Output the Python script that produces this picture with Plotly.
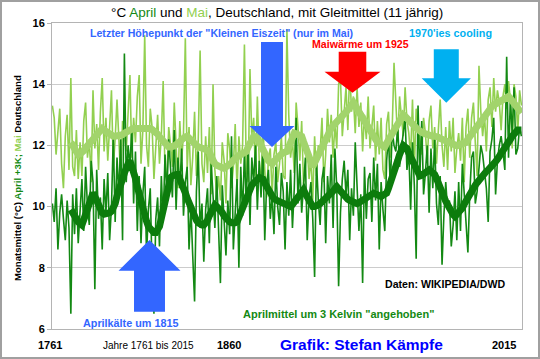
import plotly.graph_objects as go

# ---------------- data ----------------
years = list(range(1761, 2016))
ma_years = list(range(1771, 2016))

mai = [
    13.3, 12.9, 11.7, 12.6, 13.2, 11.4, 10.6, 12.3, 13.0, 11.2,
    14.2, 11.3, 11.0, 12.5, 10.9, 12.1, 11.0, 12.8, 13.4, 11.6,
    12.2, 10.8, 13.8, 11.9, 12.7, 11.2, 13.1, 14.2, 11.8, 12.9,
    11.5, 12.6, 13.8, 11.3, 12.2, 13.5, 11.9, 10.9, 12.8, 12.4,
    11.8, 13.2, 14.3, 11.6, 12.9, 12.1, 13.6, 14.3, 11.4, 12.5,
    15.6, 12.0, 11.3, 13.2, 12.6, 10.9, 12.2, 13.0, 11.4, 12.3,
    14.1, 11.1, 10.9, 12.6, 12.0, 11.3, 13.4, 11.7, 10.6, 12.8,
    11.5, 12.4, 15.5, 11.2, 12.6, 10.7, 11.6, 13.1, 11.0, 12.2,
    15.1, 11.4, 10.8, 12.3, 11.1, 12.6, 10.4, 14.0, 11.2, 10.3,
    11.0, 10.2, 12.1, 11.5, 10.1, 12.4, 11.9, 10.6, 11.3, 12.7,
    10.5, 12.3, 11.4, 12.0, 15.3, 11.2, 10.8, 14.5, 12.2, 12.9,
    11.0, 13.6, 11.5, 10.6, 12.8, 11.2, 10.3, 11.6, 11.9, 10.4,
    11.7, 12.1, 10.8, 11.4, 12.3, 11.0, 10.9, 15.8, 13.0, 11.6,
    12.2, 11.1, 13.4, 12.6, 11.5, 12.8, 10.7, 11.3, 12.0, 10.9,
    11.6, 10.2, 12.3, 11.0, 12.0, 11.8, 12.9, 10.8, 11.7, 13.2,
    12.1, 13.0, 11.6, 12.7, 11.9, 14.0, 14.2, 12.3, 13.1, 13.9,
    12.5, 14.5, 13.1, 13.6, 12.4, 13.9, 12.6, 13.4, 11.8, 13.0,
    12.2, 13.6, 11.9, 12.6, 13.3, 11.5, 12.8, 11.7, 12.9, 11.2,
    10.9, 12.7, 13.1, 11.6, 12.5, 14.7, 13.3, 12.1, 13.6, 12.8,
    12.3, 13.9, 12.8, 12.4, 11.6, 13.5, 11.2, 13.2, 12.7, 12.0,
    11.7, 12.9, 12.4, 11.5, 12.8, 13.3, 11.9, 12.6, 11.4, 12.5,
    13.5, 12.0, 11.3, 12.6, 11.2, 12.8, 11.8, 12.9, 11.1, 11.9,
    12.4, 11.5, 12.9, 10.8, 12.6, 13.2, 11.6, 12.9, 13.4, 12.1,
    11.0, 14.6, 13.1, 12.3, 13.0, 11.8, 13.5, 13.9, 12.6, 14.2,
    13.1, 13.8, 13.4, 12.5, 13.6, 14.0, 13.2, 14.1, 13.5, 11.9,
    14.0, 13.6, 12.4, 13.8, 13.3,
]

april3 = [
    10.1, 9.5, 10.6, 8.6, 9.8, 10.4, 9.6, 8.9, 10.2, 9.3,
    6.5, 10.4, 9.1, 10.6, 8.8, 9.7, 10.9, 9.2, 11.3, 10.0,
    9.4, 11.5, 10.8, 7.3, 11.2, 9.6, 10.3, 8.6, 10.9, 9.8,
    11.1, 8.9, 10.0, 12.3, 9.5, 11.6, 10.4, 12.2, 8.9, 15.0,
    10.8, 12.0, 11.3, 12.6, 10.1, 11.8, 9.2, 11.0, 8.8, 10.4,
    11.3, 8.4, 9.9, 10.6, 7.9, 6.5, 9.6, 10.3, 8.7, 11.0,
    9.5, 11.7, 10.4, 12.2, 11.1, 10.3, 12.5, 9.9, 11.6, 10.6,
    11.9, 9.7, 10.8, 11.3, 8.6, 10.0, 8.4, 6.9, 10.5, 11.8,
    9.3, 10.1, 8.2, 9.9, 10.6, 8.8, 11.4, 10.2, 9.3, 11.0,
    9.0, 7.5, 10.7, 9.6, 8.4, 10.2, 9.1, 12.3, 8.6, 9.8,
    10.9, 8.0, 11.3, 9.7, 11.8, 10.1, 12.1, 9.4, 11.6, 10.8,
    12.0, 9.9, 11.5, 10.3, 11.9, 8.9, 10.7, 11.2, 9.6, 10.4,
    9.1, 11.3, 10.0, 9.4, 11.1, 10.5, 8.6, 10.8, 9.7, 11.2,
    9.3, 10.6, 12.9, 10.1, 11.4, 9.8, 10.9, 11.6, 8.9, 10.3,
    10.8, 9.6, 7.7, 11.5, 10.2, 9.4, 10.9, 11.3, 8.8, 11.0,
    10.1, 11.7, 9.3, 11.9, 10.6, 7.4, 9.8, 10.9, 11.5, 10.4,
    11.2, 8.9, 10.6, 9.7, 12.1, 10.8, 9.2, 10.4, 7.5, 11.3,
    9.6, 10.9, 11.1, 9.5, 11.6, 10.2, 11.4, 8.6, 10.8, 9.9,
    9.2, 11.5, 12.3, 10.6, 12.5, 12.0, 11.8, 12.6, 11.3, 11.9,
    12.4, 12.9, 11.2, 11.8, 9.9, 12.1, 10.7, 8.3, 13.3, 11.0,
    12.8, 10.4, 11.1, 12.0, 9.8, 11.9, 10.6, 12.2, 10.1, 9.4,
    11.0, 8.1, 9.7, 10.8, 9.9, 10.2, 8.7, 9.4, 10.5, 8.9,
    10.8, 9.2, 11.4, 10.3, 9.6, 8.5, 10.4, 11.6, 11.8, 10.1,
    10.5, 11.3, 12.0, 11.7, 11.1, 10.6, 9.5, 11.8, 12.2, 12.9,
    10.4, 11.5, 12.0, 12.3, 11.8, 11.2, 14.9, 11.6, 13.5, 12.4,
    13.9, 11.7, 11.9, 12.6, 12.3,
]

mai_ma = [
    12.10, 11.97, 11.85, 11.77, 11.70, 11.72, 11.75, 11.83, 11.92, 12.00,
    12.07, 12.13, 12.20, 12.27, 12.33, 12.40, 12.48, 12.55, 12.50, 12.45,
    12.40, 12.35, 12.30, 12.30, 12.30, 12.30, 12.32, 12.33, 12.35, 12.40,
    12.45, 12.50, 12.52, 12.53, 12.55, 12.55, 12.55, 12.55, 12.57, 12.58,
    12.60, 12.58, 12.57, 12.55, 12.52, 12.48, 12.45, 12.37, 12.28, 12.20,
    12.12, 12.03, 11.95, 11.95, 11.95, 11.95, 11.98, 12.02, 12.05, 12.12,
    12.18, 12.25, 12.28, 12.30, 12.23, 12.17, 12.10, 12.05, 12.00, 11.95,
    11.93, 11.92, 11.90, 11.87, 11.83, 11.80, 11.63, 11.45, 11.40, 11.35,
    11.30, 11.28, 11.27, 11.25, 11.28, 11.32, 11.35, 11.43, 11.52, 11.60,
    11.63, 11.67, 11.70, 11.73, 11.77, 11.80, 11.95, 12.10, 12.20, 12.30,
    12.28, 12.25, 12.12, 11.98, 11.85, 11.73, 11.62, 11.50, 11.45, 11.40,
    11.48, 11.55, 11.62, 11.68, 11.75, 11.77, 11.78, 11.80, 11.95, 12.10,
    12.25, 12.40, 12.38, 12.35, 12.33, 12.30, 12.12, 11.93, 11.75, 11.60,
    11.45, 11.30, 11.43, 11.57, 11.70, 11.84, 11.98, 12.12, 12.26, 12.40,
    12.48, 12.56, 12.64, 12.72, 12.80, 12.86, 12.92, 12.98, 13.03, 13.09,
    13.15, 13.23, 13.32, 13.40, 13.30, 13.20, 13.09, 12.98, 12.86, 12.75,
    12.66, 12.58, 12.49, 12.40, 12.30, 12.20, 12.10, 12.06, 12.03, 11.99,
    11.95, 12.07, 12.18, 12.30, 12.40, 12.50, 12.60, 12.70, 12.80, 12.90,
    13.00, 12.95, 12.90, 12.85, 12.78, 12.71, 12.64, 12.57, 12.50, 12.47,
    12.43, 12.40, 12.37, 12.33, 12.30, 12.30, 12.30, 12.30, 12.30, 12.27,
    12.23, 12.20, 12.16, 12.13, 12.10, 12.07, 12.03, 12.00, 11.97, 11.99,
    12.01, 12.03, 12.06, 12.08, 12.10, 12.20, 12.30, 12.40, 12.47, 12.55,
    12.62, 12.70, 12.77, 12.84, 12.93, 13.02, 13.10, 13.19, 13.28, 13.32,
    13.37, 13.41, 13.46, 13.50, 13.53, 13.55, 13.58, 13.60, 13.53, 13.45,
    13.38, 13.30, 13.22, 13.14, 13.06,
]

april3_ma = [
    9.90, 9.77, 9.65, 9.57, 9.50, 9.45, 9.40, 9.57, 9.75, 9.97,
    10.20, 10.33, 10.45, 10.33, 10.20, 10.02, 9.85, 9.80, 9.75, 9.75,
    9.75, 9.80, 9.85, 9.97, 10.10, 10.35, 10.60, 10.75, 10.90, 11.10,
    11.30, 11.40, 11.50, 11.35, 11.20, 10.92, 10.65, 10.37, 10.10, 9.90,
    9.70, 9.52, 9.35, 9.25, 9.15, 9.15, 9.15, 9.25, 9.35, 9.62,
    9.90, 10.25, 10.60, 10.77, 10.95, 11.00, 11.05, 11.05, 11.05, 10.92,
    10.80, 10.62, 10.45, 10.27, 10.10, 9.95, 9.80, 9.67, 9.55, 9.47,
    9.40, 9.40, 9.40, 9.47, 9.55, 9.70, 9.85, 9.95, 10.05, 10.00,
    9.95, 9.87, 9.80, 9.70, 9.60, 9.55, 9.50, 9.47, 9.45, 9.47,
    9.50, 9.65, 9.80, 10.00, 10.20, 10.35, 10.50, 10.60, 10.70, 10.77,
    10.85, 10.90, 10.95, 10.92, 10.90, 10.77, 10.65, 10.52, 10.40, 10.32,
    10.25, 10.22, 10.20, 10.17, 10.15, 10.10, 10.07, 10.05, 10.02, 10.00,
    10.07, 10.15, 10.24, 10.33, 10.40, 10.48, 10.55, 10.42, 10.30, 10.15,
    10.00, 10.00, 10.00, 10.00, 10.05, 10.10, 10.15, 10.20, 10.26, 10.32,
    10.38, 10.44, 10.51, 10.58, 10.65, 10.58, 10.50, 10.42, 10.33, 10.29,
    10.24, 10.20, 10.17, 10.15, 10.12, 10.10, 10.13, 10.17, 10.20, 10.24,
    10.29, 10.33, 10.37, 10.40, 10.44, 10.41, 10.38, 10.36, 10.33, 10.37,
    10.40, 10.44, 10.60, 10.75, 10.93, 11.12, 11.30, 11.50, 11.70, 11.85,
    12.00, 11.95, 11.90, 11.75, 11.60, 11.45, 11.30, 11.20, 11.10, 11.00,
    11.02, 11.05, 11.10, 11.15, 11.20, 11.15, 11.10, 11.05, 10.92, 10.80,
    10.62, 10.45, 10.32, 10.18, 10.05, 9.92, 9.80, 9.74, 9.68, 9.74,
    9.80, 9.88, 9.95, 10.08, 10.20, 10.32, 10.45, 10.53, 10.62, 10.70,
    10.78, 10.87, 10.95, 11.02, 11.08, 11.15, 11.20, 11.25, 11.30, 11.38,
    11.47, 11.55, 11.63, 11.72, 11.80, 11.90, 12.00, 12.10, 12.20, 12.30,
    12.40, 12.45, 12.50, 12.50, 12.50,
]

y_ticks = [6, 8, 10, 12, 14, 16]

# ---------------- styling ----------------
FONT = "Arial, Liberation Sans, sans-serif"
DARK = "#138913"
DARK_MA = "#0c7c0c"
LIGHT = "#92d050"
LIGHT_MA = "#a2d46c"
BLUE = "#3366ff"
CYAN = "#00b0f0"
RED = "#ff0000"

W, H = 540, 359
L, R, T, B = 52, 18, 23, 30
PW = W - L - R
PH = H - T - B


def px(x):
    return (x - L) / PW


def py(y):
    return (H - B - y) / PH


def arrow_path(cx, shaft_half, head_half, tail_y, base_y, tip_y):
    pts = [
        (cx - shaft_half, tail_y), (cx + shaft_half, tail_y),
        (cx + shaft_half, base_y), (cx + head_half, base_y),
        (cx, tip_y),
        (cx - head_half, base_y), (cx - shaft_half, base_y),
    ]
    return "M " + " L ".join(f"{px(a):.4f},{py(b):.4f}" for a, b in pts) + " Z"


fig = go.Figure()
fig.add_trace(go.Scatter(x=years, y=mai, mode="lines",
                         line=dict(color=LIGHT, width=1.6), hoverinfo="skip"))
fig.add_trace(go.Scatter(x=years, y=april3, mode="lines",
                         line=dict(color=DARK, width=1.6), hoverinfo="skip"))
fig.add_trace(go.Scatter(x=ma_years, y=mai_ma, mode="lines",
                         line=dict(color=LIGHT_MA, width=7), hoverinfo="skip"))
fig.add_trace(go.Scatter(x=ma_years, y=april3_ma, mode="lines",
                         line=dict(color=DARK_MA, width=7), hoverinfo="skip"))

shapes = [
    # outer frame of the picture
    dict(type="rect", xref="paper", yref="paper",
         x0=px(1), x1=px(W - 1), y0=py(H - 1), y1=py(1),
         line=dict(color="#a0a0a0", width=2), layer="below"),
    dict(type="path", xref="paper", yref="paper",
         path=arrow_path(272, 11, 22.5, 42, 126, 147),
         fillcolor=BLUE, line=dict(width=0)),
    dict(type="path", xref="paper", yref="paper",
         path=arrow_path(352.5, 13.8, 28, 51.7, 71.7, 92.7),
         fillcolor=RED, line=dict(width=0)),
    dict(type="path", xref="paper", yref="paper",
         path=arrow_path(446.3, 12.5, 24.6, 49.3, 78.3, 102.7),
         fillcolor=CYAN, line=dict(width=0)),
    dict(type="path", xref="paper", yref="paper",
         path=arrow_path(149.5, 15.5, 31, 311.7, 270.7, 240),
         fillcolor=BLUE, line=dict(width=0)),
]


def ann(text, x, y, size, color="black", angle=0, bold=True):
    t = f"<b>{text}</b>" if bold else text
    return dict(text=t, x=px(x), y=py(y), xref="paper", yref="paper",
                xanchor="center", yanchor="middle", showarrow=False,
                textangle=angle, font=dict(family=FONT, size=size, color=color))


annotations = [
    ann(f"°C <span style='color:{DARK}'>April</span> und "
        f"<span style='color:{LIGHT}'>Mai</span>, Deutschland, mit Gleitmittel (11 jährig)",
        277, 12.5, 13.5, bold=False),
    ann(f"Monatsmittel (°C) <span style='color:{DARK}'>April +3K;</span> "
        f"<span style='color:{LIGHT}'>Mai</span> Deutschland",
        17, 178, 9.6, angle=-90),
    ann("Letzter Höhepunkt der \"Kleinen Eiszeit\" (nur im Mai)", 221, 33, 10.6, BLUE),
    ann("1970'ies cooling", 450, 33, 10.8, CYAN),
    ann("Maiwärme um 1925", 360, 44, 10.6, RED),
    ann("Aprilkälte um 1815", 130, 322.5, 10.8, BLUE),
    ann("Aprilmittel um 3 Kelvin \"angehoben\"", 338, 313.5, 11, DARK),
    ann("Daten: WIKIPEDIA/DWD", 445, 284, 10.6, "black"),
    ann("1761", 50, 345, 11),
    ann("Jahre 1761 bis 2015", 148, 345, 10, bold=False),
    ann("1860", 229, 345, 11),
    ann("Grafik: Stefan Kämpfe", 361, 344, 15.5, "#0000ff"),
    ann("2015", 504, 345, 11),
]

fig.update_layout(
    width=W, height=H,
    margin=dict(l=L, r=R, t=T, b=B, pad=0),
    paper_bgcolor="white", plot_bgcolor="white",
    showlegend=False,
    shapes=shapes,
    annotations=annotations,
    xaxis=dict(range=[1760.8, 2015.3], showticklabels=False, showgrid=False,
               zeroline=False, showline=True, linecolor="#b4b4b4", linewidth=1,
               mirror=True, ticks=""),
    yaxis=dict(range=[6, 16], tickvals=y_ticks, ticktext=[str(v) for v in y_ticks],
               showgrid=True, gridcolor="#cccccc", gridwidth=1, zeroline=False,
               showline=True, linecolor="#b4b4b4", linewidth=1, mirror=True,
               ticks="outside", ticklen=4, tickcolor="#b4b4b4",
               tickfont=dict(family=FONT, size=11, color="black", weight="bold")),
)

fig.write_html(
    "out.html",
    include_plotlyjs=True,
    config={"displayModeBar": False},
    post_script="document.body.style.margin='0';document.body.style.padding='0';"
                "document.body.style.overflow='hidden';",
)
